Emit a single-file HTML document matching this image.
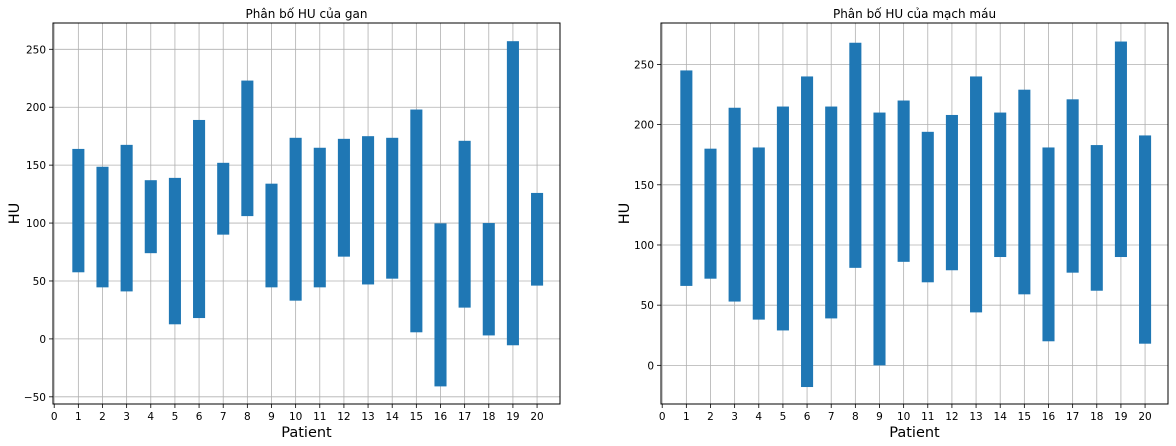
<!DOCTYPE html>
<html><head><meta charset="utf-8"><style>
html,body{margin:0;padding:0;background:#fff;width:1176px;height:446px;overflow:hidden}
svg{display:block;font-family:"DejaVu Sans","Liberation Sans",sans-serif}
</style></head><body>
<svg id="svg" width="1176" height="446" viewBox="0 0 1176 446"></svg>
<script>
const patients=[1,2,3,4,5,6,7,8,9,10,11,12,13,14,15,16,17,18,19,20];
const liverLow=[57.5,44.5,41,74,12.6,18,90,106,44.5,33,44.5,71,47,52,5.7,-41,27,3,-5.5,46];
const liverHigh=[164,148.6,167.5,137,139,189,152,223,134,173.6,165,172.7,175,173.6,198,99.7,171,100,257,126];
const vesselLow=[66,72,53,38,29,-18,39,81,0,86,69,79,44,90,59,20,77,62,90,18];
const vesselHigh=[245,180,214,181,215,240,215,268,210,220,194,208,240,210,229,181,221,183,269,191];
const xTicks=[0,1,2,3,4,5,6,7,8,9,10,11,12,13,14,15,16,17,18,19,20];
const liverYTicks=[-50,0,50,100,150,200,250];
const vesselYTicks=[0,50,100,150,200,250];
const NS="http://www.w3.org/2000/svg";
const svg=document.getElementById('svg');
function el(tag,attrs,parent){const e=document.createElementNS(NS,tag);for(const k in attrs)e.setAttribute(k,attrs[k]);(parent||svg).appendChild(e);return e;}
function chart(cfg){
  const g=el('g',{});
  
  
  const xs=v=>cfg.x0+(v-cfg.xmin)/(cfg.xmax-cfg.xmin)*(cfg.x1-cfg.x0);
  const ys=v=>cfg.y1-(v-cfg.ymin)/(cfg.ymax-cfg.ymin)*(cfg.y1-cfg.y0);
  // grid
  xTicks.forEach(t=>{const l=el('line',{x1:xs(t),x2:xs(t),y1:cfg.y0,y2:cfg.y1,stroke:'#b0b0b0','stroke-width':0.8},g);
    });
  cfg.yTicks.forEach(t=>{const l=el('line',{x1:cfg.x0,x2:cfg.x1,y1:ys(t),y2:ys(t),stroke:'#b0b0b0','stroke-width':0.8},g);
    });
  // bars
  patients.forEach((p,i)=>{const lo=cfg.low[i],hi=cfg.high[i];
    const r=el('rect',{x:xs(p-0.25),width:xs(p+0.25)-xs(p-0.25),y:ys(hi),height:ys(lo)-ys(hi),fill:'#1f77b4'},g);
    
    });
  // frame
  const f=el('rect',{x:cfg.x0,y:cfg.y0,width:cfg.x1-cfg.x0,height:cfg.y1-cfg.y0,fill:'none',stroke:'#000','stroke-width':1},g);
  
  xTicks.forEach(t=>{el('line',{x1:xs(t),x2:xs(t),y1:cfg.y1,y2:cfg.y1+4,stroke:'#000','stroke-width':0.8},g);
    const tx=el('text',{x:xs(t),y:cfg.y1+16,'font-size':10.5,'text-anchor':'middle',fill:'#000'},g);tx.textContent=t;
    });
  cfg.yTicks.forEach(t=>{el('line',{x1:cfg.x0-4,x2:cfg.x0,y1:ys(t),y2:ys(t),stroke:'#000','stroke-width':0.8},g);
    const tx=el('text',{x:cfg.x0-7,y:ys(t)+4,'font-size':10.5,'text-anchor':'end',fill:'#000'},g);tx.textContent=t<0?'\u2212'+(-t):t;
    });
  const ti=el('text',{x:(cfg.x0+cfg.x1)/2,y:18,'font-size':12,'text-anchor':'middle'},g);ti.textContent=cfg.title;
  
  const xl=el('text',{x:(cfg.x0+cfg.x1)/2,y:437,'font-size':14.5,'text-anchor':'middle'},g);xl.textContent='Patient';
  
  const yx=cfg.ylabX,yy=(cfg.y0+cfg.y1)/2;
  const yl=el('text',{x:yx,y:yy,'font-size':14.5,'text-anchor':'middle',transform:'rotate(-90 '+yx+' '+yy+')'},g);yl.textContent='HU';
  
}
chart({name:'liver-hu-chart',title:'Phân bố HU của gan',x0:53,x1:560,y0:23,y1:404,xmin:-0.05,xmax:20.95,ymin:-56.2,ymax:272.7,yTicks:liverYTicks,low:liverLow,high:liverHigh,ylabX:19});
chart({name:'vessel-hu-chart',title:'Phân bố HU của mạch máu',x0:661,x1:1168,y0:23,y1:404,xmin:-0.05,xmax:20.95,ymin:-32.1,ymax:284.4,yTicks:vesselYTicks,low:vesselLow,high:vesselHigh,ylabX:629});
</script>
</body></html>
